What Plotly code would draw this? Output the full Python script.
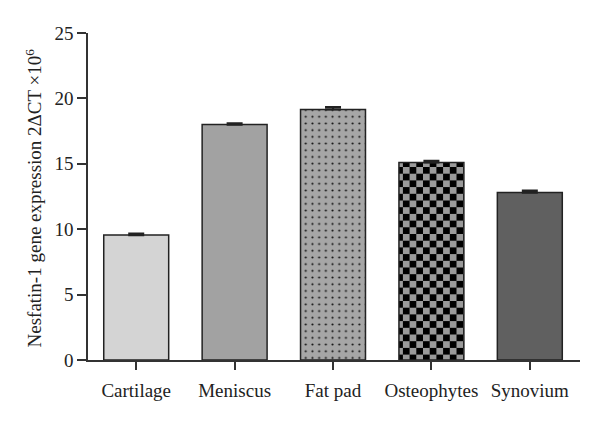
import plotly.graph_objects as go

categories = ["Cartilage", "Meniscus", "Fat pad", "Osteophytes", "Synovium"]
values = [9.55, 18.0, 19.15, 15.1, 12.8]
errors = [0.12, 0.1, 0.18, 0.12, 0.15]
y_ticks = [0, 5, 10, 15, 20, 25]
y_title = "Nesfatin-1 gene expression 2ΔCT ×10<sup>6</sup>"

fills = ["#d4d4d4", "#a2a2a2", "#a6a6a6", "#9a9a9a", "#606060"]

fig = go.Figure()
s = 13.4
check_path = f"M0,0H{s/2}V{s/2}H0Z M{s/2},{s/2}H{s}V{s}H{s/2}Z"

for i, (c, v, e) in enumerate(zip(categories, values, errors)):
    marker = dict(color=fills[i], line=dict(color="#222222", width=1.5))
    if c == "Fat pad":
        marker["pattern"] = dict(shape=".", fgcolor="#111111", bgcolor=fills[i],
                                 size=6.7, solidity=0.08, fillmode="replace")
    elif c == "Osteophytes":
        try:
            go.bar.marker.Pattern(path=check_path)
            marker["pattern"] = dict(path=check_path, fgcolor="#000000", bgcolor=fills[i],
                                     size=s, solidity=1, fillmode="replace")
        except Exception:
            marker["pattern"] = dict(shape=".", fgcolor="#000000", bgcolor=fills[i],
                                     size=7, solidity=0.5, fillmode="replace")
    fig.add_trace(go.Bar(
        x=[c], y=[v], width=0.66, marker=marker,
        error_y=dict(type="data", symmetric=False, array=[e], arrayminus=[0],
                     color="#222222", thickness=2.2, width=8),
        showlegend=False,
    ))

serif = "Liberation Serif, Times New Roman, serif"
axis_font = dict(family=serif, size=19, color="#222222")
fig.update_layout(
    width=600, height=421,
    margin=dict(l=80, r=28, t=25, b=69),
    paper_bgcolor="white", plot_bgcolor="white",
    bargap=0.34,
    font=axis_font,
    xaxis=dict(
        categoryorder="array", categoryarray=categories,
        range=[-0.49, 4.51],
        showline=True, linecolor="#333333", linewidth=1.5,
        ticks="outside", ticklen=8, tickwidth=1.5, tickcolor="#333333",
        ticklabelstandoff=4,
        showgrid=False, zeroline=False, tickfont=axis_font,
    ),
    yaxis=dict(
        range=[0, 25], tickvals=y_ticks,
        showline=True, linecolor="#333333", linewidth=1.5,
        ticks="outside", ticklen=9, tickwidth=1.5, tickcolor="#333333",
        showgrid=False, zeroline=False, tickfont=axis_font,
    ),
    annotations=[dict(
        text=y_title, textangle=-90, showarrow=False,
        xref="paper", yref="paper", x=0, y=0.5,
        xanchor="center", yanchor="middle", xshift=-55, yshift=-2,
        font=dict(family=serif, size=19, color="#222222"),
    )],
)

fig.write_html("out.html")
